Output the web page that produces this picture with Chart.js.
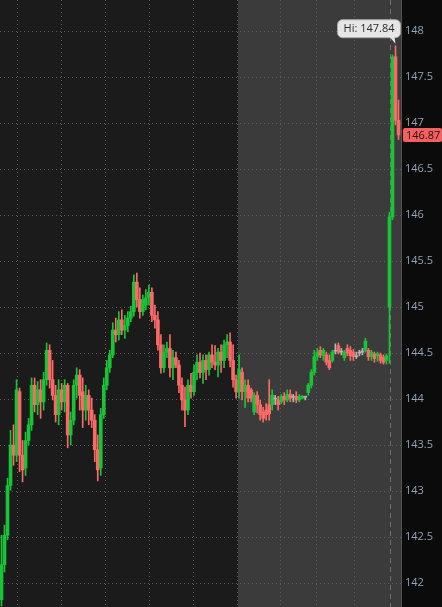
<!DOCTYPE html>
<html>
<head>
<meta charset="utf-8">
<script src="https://cdn.jsdelivr.net/npm/chart.js@4.4.1/dist/chart.umd.min.js"></script>
<style>
  html, body { margin: 0; padding: 0; background: #0b0b0b; }
  canvas { display: block; }
</style>
</head>
<body>
<canvas id="chart" width="442" height="607"></canvas>
<script>
// one bar per slot (price)
const opens = [
  141.82, 142.20, 142.52, 143.06, 143.50, 143.39, 144.08, 143.39, 143.25, 143.55,
  143.72, 144.15, 143.94, 144.10, 143.97, 144.21, 144.53, 144.21, 144.04, 143.83,
  144.10, 143.97, 144.15, 143.61, 143.77, 144.15, 144.26, 144.08, 143.88, 144.04,
  143.88, 143.77, 143.45, 143.25, 143.83, 144.15, 144.34, 144.48, 144.75, 144.70,
  144.86, 144.75, 144.80, 144.88, 144.95, 145.27, 145.08, 144.95, 145.02, 145.10,
  145.16, 144.91, 144.86, 144.59, 144.34, 144.51, 144.55, 144.34, 144.45, 144.37,
  144.15, 143.99, 143.88, 144.15, 144.08, 144.29, 144.40, 144.29, 144.42, 144.32,
  144.48, 144.40, 144.37, 144.51, 144.42, 144.59, 144.62, 144.42, 144.21, 144.08,
  144.29, 144.08, 144.15, 144.10, 143.86, 144.04, 143.94, 143.86, 143.88, 143.94,
  143.94, 144.00, 143.99, 143.97, 144.03, 143.99, 144.05, 144.02, 144.03, 143.99,
  144.01, 144.02, 144.07, 144.15, 144.29, 144.46, 144.53, 144.47, 144.48, 144.42,
  144.42, 144.52, 144.58, 144.51, 144.45, 144.55, 144.53, 144.51, 144.46, 144.50,
  144.51, 144.53, 144.53, 144.46, 144.49, 144.47, 144.48, 144.45, 144.42, 145.00,
  145.98, 147.72, 147.03
];
const highs = [
  142.52, 142.63, 143.14, 143.66, 143.72, 144.21, 144.12, 143.55, 143.64, 143.79,
  144.23, 144.23, 144.19, 144.21, 144.29, 144.61, 144.59, 144.42, 144.15, 144.21,
  144.17, 144.21, 144.17, 143.86, 144.21, 144.34, 144.32, 144.23, 144.15, 144.10,
  144.01, 143.83, 143.61, 143.90, 144.23, 144.42, 144.53, 144.83, 144.88, 144.95,
  144.97, 144.91, 144.95, 145.01, 145.35, 145.37, 145.21, 145.13, 145.19, 145.24,
  145.21, 145.02, 144.95, 144.70, 144.59, 144.62, 144.70, 144.53, 144.51, 144.42,
  144.23, 144.13, 144.21, 144.28, 144.37, 144.48, 144.50, 144.48, 144.48, 144.51,
  144.59, 144.58, 144.55, 144.59, 144.64, 144.70, 144.72, 144.59, 144.26, 144.48,
  144.34, 144.21, 144.21, 144.12, 144.07, 144.08, 143.99, 143.91, 143.95, 144.21,
  144.10, 144.04, 144.03, 144.05, 144.07, 144.10, 144.10, 144.05, 144.08, 144.05,
  144.04, 144.03, 144.17, 144.32, 144.53, 144.55, 144.57, 144.55, 144.51, 144.48,
  144.53, 144.60, 144.61, 144.55, 144.53, 144.59, 144.57, 144.54, 144.51, 144.53,
  144.55, 144.66, 144.55, 144.53, 144.51, 144.51, 144.50, 144.48, 144.49, 146.03,
  147.74, 147.84, 147.25
];
const lows = [
  141.75, 142.12, 142.47, 143.01, 143.28, 143.32, 143.21, 143.10, 143.17, 143.50,
  143.66, 143.86, 143.83, 143.79, 143.88, 144.15, 144.12, 143.99, 143.75, 143.72,
  143.88, 143.86, 143.47, 143.50, 143.72, 144.01, 143.88, 143.69, 143.77, 143.72,
  143.69, 143.32, 143.11, 143.17, 143.79, 144.10, 144.29, 144.45, 144.62, 144.64,
  144.70, 144.66, 144.73, 144.84, 144.90, 145.00, 144.88, 144.91, 144.97, 145.02,
  144.84, 144.77, 144.53, 144.28, 144.29, 144.45, 144.24, 144.21, 144.34, 144.07,
  143.88, 143.70, 143.83, 144.01, 144.04, 144.21, 144.23, 144.17, 144.21, 144.26,
  144.34, 144.32, 144.24, 144.29, 144.34, 144.45, 144.35, 144.13, 144.01, 144.01,
  143.99, 143.91, 143.97, 143.97, 143.83, 143.85, 143.77, 143.75, 143.77, 143.77,
  143.88, 143.94, 143.88, 143.95, 143.94, 143.97, 143.97, 143.97, 143.96, 143.97,
  144.00, 143.99, 144.04, 144.12, 144.26, 144.42, 144.45, 144.42, 144.37, 144.32,
  144.40, 144.49, 144.49, 144.48, 144.42, 144.47, 144.42, 144.42, 144.44, 144.47,
  144.48, 144.51, 144.42, 144.42, 144.40, 144.41, 144.39, 144.38, 144.38, 144.39,
  145.95, 146.98, 146.82
];
const closes = [
  142.20, 142.52, 143.06, 143.50, 143.39, 144.10, 143.39, 143.23, 143.55, 143.72,
  144.15, 143.94, 144.10, 143.97, 144.21, 144.53, 144.21, 144.04, 143.83, 144.10,
  143.97, 144.15, 143.61, 143.77, 144.15, 144.26, 144.04, 143.88, 144.04, 143.88,
  143.77, 143.45, 143.23, 143.83, 144.15, 144.34, 144.48, 144.75, 144.70, 144.86,
  144.75, 144.80, 144.88, 144.95, 145.27, 145.08, 144.95, 145.08, 145.10, 145.16,
  144.91, 144.86, 144.59, 144.34, 144.51, 144.55, 144.34, 144.45, 144.37, 144.15,
  143.99, 143.88, 144.15, 144.08, 144.29, 144.40, 144.29, 144.42, 144.32, 144.48,
  144.40, 144.37, 144.51, 144.42, 144.59, 144.62, 144.42, 144.21, 144.08, 144.32,
  144.08, 144.15, 144.01, 144.01, 144.04, 143.94, 143.83, 143.79, 143.83, 143.84,
  144.04, 144.00, 143.94, 144.03, 143.99, 144.05, 144.01, 144.02, 143.99, 144.03,
  144.03, 144.02, 144.15, 144.29, 144.46, 144.51, 144.48, 144.53, 144.40, 144.34,
  144.51, 144.52, 144.51, 144.51, 144.51, 144.50, 144.47, 144.46, 144.46, 144.50,
  144.51, 144.63, 144.46, 144.51, 144.44, 144.49, 144.42, 144.40, 144.47, 145.98,
  147.72, 147.03, 146.87
];

const priceTicks = [142, 142.5, 143, 143.5, 144, 144.5, 145, 145.5, 146, 146.5, 147, 147.5, 148];
const timeTicks = [5.27, 19.93, 34.6, 49.27, 63.93, 78.6, 92.6, 104.83, 117.27];
const sessionBreak = 78.5;  // regular session ends here, extended hours after
const nowMark = 129.3;

const GREEN = '#19c437';
const RED = '#fa6a67';
const GRAY = '#b4b4b4';

const colors = opens.map((o, i) => closes[i] > o ? GREEN : (closes[i] < o ? RED : GRAY));
const wickData = opens.map((o, i) => ({ x: i, y: [lows[i], highs[i]] }));
const bodyData = opens.map((o, i) => ({ x: i, y: [Math.min(o, closes[i]), Math.max(o, closes[i])] }));

Chart.defaults.font.family = "'Open Sans', sans-serif";

const extras = {
  id: 'extras',
  beforeDraw(chart) {
    const { ctx, chartArea: a, scales: { x } } = chart;
    const bx = Math.round(x.getPixelForValue(sessionBreak));
    ctx.save();
    ctx.fillStyle = '#0b0b0b';
    ctx.fillRect(0, 0, chart.width, chart.height);
    ctx.fillStyle = '#1b1b1b';
    ctx.fillRect(a.left, a.top, bx - a.left, a.bottom - a.top);
    ctx.fillStyle = '#3b3b3b';
    ctx.fillRect(bx, a.top, a.right - bx, a.bottom - a.top);
    ctx.restore();
  },
  beforeDatasetsDraw(chart) {
    const { ctx, chartArea: a, scales: { x } } = chart;
    const nx = Math.round(x.getPixelForValue(nowMark)) + 0.5;
    ctx.save();
    ctx.strokeStyle = '#707070';
    ctx.lineWidth = 1;
    ctx.setLineDash([5, 4]);
    ctx.beginPath();
    ctx.moveTo(nx, a.top);
    ctx.lineTo(nx, a.bottom);
    ctx.stroke();
    ctx.restore();
  },
  afterDraw(chart) {
    const { ctx, chartArea: a, scales: { x, y } } = chart;
    ctx.save();
    ctx.font = "11px 'Open Sans'";
    ctx.textBaseline = 'middle';

    // high marker
    const hi = Math.max(...highs);
    const hiIdx = highs.indexOf(hi);
    const hx = x.getPixelForValue(hiIdx);
    const hy = y.getPixelForValue(hi);
    const txt = 'Hi: ' + hi.toFixed(2);
    const w = ctx.measureText(txt).width + 12, h = 18;
    const right = hx + 5, bottom = hy - 8;
    ctx.fillStyle = '#e6e6e6';
    ctx.strokeStyle = '#a8a8a8';
    ctx.beginPath();
    ctx.roundRect(right - w, bottom - h, w, h, 5);
    ctx.fill();
    ctx.stroke();
    ctx.beginPath();
    ctx.moveTo(hx - 6, bottom - 1);
    ctx.lineTo(hx - 1, bottom - 1);
    ctx.lineTo(hx, hy - 2);
    ctx.closePath();
    ctx.fill();
    ctx.fillStyle = '#2e2e2e';
    ctx.textAlign = 'center';
    ctx.fillText(txt, right - w / 2, bottom - h / 2 + 0.5);

    // last price tag
    const last = closes[closes.length - 1];
    const ly = y.getPixelForValue(last);
    ctx.fillStyle = '#f5605e';
    ctx.beginPath();
    ctx.roundRect(a.right + 2, ly - 7, chart.width - a.right - 2, 14, 2);
    ctx.fill();
    ctx.fillStyle = '#1c1414';
    ctx.textAlign = 'left';
    ctx.fillText(last.toFixed(2), a.right + 5, ly + 0.5);
    ctx.restore();
  }
};

new Chart(document.getElementById('chart'), {
  type: 'bar',
  data: {
    datasets: [
      {
        data: wickData,
        backgroundColor: colors,
        barThickness: 1,
        grouped: false,
        minBarLength: 1
      },
      {
        data: bodyData,
        backgroundColor: colors,
        barThickness: 3,
        grouped: false,
        minBarLength: 1
      }
    ]
  },
  options: {
    responsive: false,
    animation: false,
    layout: { padding: 0 },
    plugins: { legend: { display: false }, tooltip: { enabled: false } },
    scales: {
      x: {
        type: 'linear',
        min: -0.5,
        max: 132.83,
        offset: false,
        ticks: { display: false },
        grid: { color: '#5e5e5e', drawTicks: false, offset: false },
        border: { display: false, dash: [1, 3] },
        afterBuildTicks: s => { s.ticks = timeTicks.map(v => ({ value: v })); },
        afterFit: s => { s.height = 0; s.paddingLeft = 0; s.paddingRight = 0; }
      },
      y: {
        position: 'right',
        min: 141.74,
        max: 148.337,
        ticks: {
          color: '#95a2b5',
          font: { size: 11 },
          padding: 4,
          callback: v => String(v)
        },
        grid: { color: '#5e5e5e', drawTicks: false },
        border: { display: true, color: '#555555', width: 1, dash: [1, 3] },
        afterBuildTicks: s => { s.ticks = priceTicks.map(v => ({ value: v })); },
        afterFit: s => { s.width = 41; s.paddingTop = 0; s.paddingBottom = 0; }
      }
    }
  },
  plugins: [extras]
});
</script>
</body>
</html>
